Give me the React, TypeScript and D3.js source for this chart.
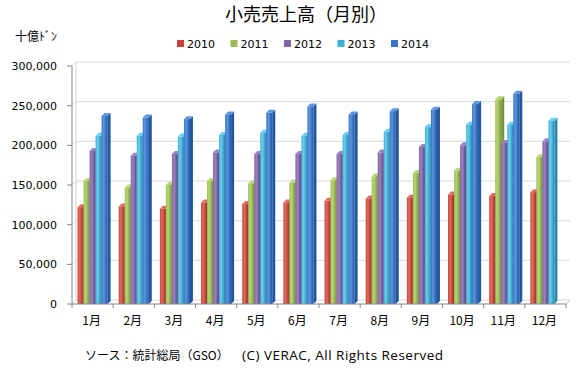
import React from "react";
import { scaleBand, scaleLinear } from "d3";

const months = ["1月", "2月", "3月", "4月", "5月", "6月", "7月", "8月", "9月", "10月", "11月", "12月"];
const years = ["2010", "2011", "2012", "2013", "2014"];

const sales2010 = [122000, 123000, 120000, 128000, 126000, 128000, 130000, 133000, 134000, 138000, 136000, 141000];
const sales2011 = [155000, 147000, 150000, 155000, 152000, 153000, 156000, 161000, 165000, 168000, 258000, 185000];
const sales2012 = [193000, 187000, 189000, 191000, 189000, 189000, 189000, 191000, 198000, 200000, 203000, 205000];
const sales2013 = [212000, 212000, 211000, 213000, 216000, 212000, 213000, 217000, 223000, 226000, 226000, 231000];
const sales2014 = [237000, 235000, 233000, 239000, 241000, 249000, 239000, 243000, 245000, 252000, 265000, null];

const series = [sales2010, sales2011, sales2012, sales2013, sales2014];
const yTicks = [0, 50000, 100000, 150000, 200000, 250000, 300000];

const colors = [
  { base: "#C9433A", light: "#E26A5F", dark: "#9A2E27" },
  { base: "#9BBB59", light: "#B8D672", dark: "#76953A" },
  { base: "#8064A2", light: "#9D82C2", dark: "#5C4480" },
  { base: "#3DB2D9", light: "#6ACDEE", dark: "#2788AE" },
  { base: "#3575C8", light: "#5C96E0", dark: "#21559F" },
];

const W = 578;
const H = 373;
const left = 72;
const right = 566;
const bottom = 304;
const top = 66;
const wall = 4; // back wall offset
const depth = 3; // bar depth

const App = () => {
  const x0 = scaleBand().domain(months).range([left, right]).paddingInner(0.27).paddingOuter(0.135);
  const x1 = scaleBand().domain(years).range([0, x0.bandwidth()]);
  const y = scaleLinear().domain([0, 300000]).range([bottom, top]);
  const step = x0.step();
  const fmt = (v: number) => v.toLocaleString("en-US");

  return (
    <svg width={W} height={H} style={{ display: "block", position: "absolute", left: 0, top: 0 }}>
      <defs>
        {colors.map((c, i) => (
          <linearGradient key={i} id={"g" + i} x1="0" x2="1" y1="0" y2="0">
            <stop offset="0" stopColor={c.base} />
            <stop offset="0.35" stopColor={c.light} />
            <stop offset="1" stopColor={c.dark} />
          </linearGradient>
        ))}
      </defs>
      <rect width={W} height={H} fill="#fff" />

      {/* title */}
      <text x={225} y={21} fontFamily="'Noto Sans CJK JP'" fontSize={18} fill="#000">
        小売売上高（月別）
      </text>
      <text x={15} y={41} fontFamily="'Noto Sans CJK JP'" fontSize={12} fill="#000">
        十億ﾄﾞﾝ
      </text>

      {/* legend */}
      {years.map((yr, i) => (
        <g key={yr} transform={`translate(${177 + i * 53.5},44)`}>
          <rect x={0} y={-4} width={7} height={7} fill={colors[i].base} />
          <text x={10} y={4} fontFamily="'DejaVu Sans'" fontSize={11} fill="#000">
            {yr}
          </text>
        </g>
      ))}

      {/* back wall + grid */}
      <line x1={left + wall} x2={left + wall} y1={y(300000) - wall} y2={bottom - wall} stroke="#D0D0D0" />
      {yTicks.map((t) => (
        <g key={t}>
          <line x1={left + wall} x2={right + wall} y1={y(t) - wall} y2={y(t) - wall} stroke="#D9D9D9" />
          <line x1={left} x2={left + wall} y1={y(t)} y2={y(t) - wall} stroke="#D9D9D9" />
        </g>
      ))}
      <line x1={right} x2={right + wall} y1={bottom} y2={bottom - wall} stroke="#BFBFBF" />

      {/* bars */}
      {months.map((m, mi) => (
        <g key={m}>
          {series.map((s, si) => {
            const v = s[mi];
            if (v == null) return null;
            const bx = (x0(m) as number) + (x1(years[si]) as number);
            const bw = x1.bandwidth();
            const by = y(v);
            const c = colors[si];
            return (
              <g key={si}>
                <polygon
                  points={`${bx + bw},${by} ${bx + bw + depth},${by - depth} ${bx + bw + depth},${bottom - depth} ${bx + bw},${bottom}`}
                  fill={c.dark}
                />
                <polygon
                  points={`${bx},${by} ${bx + depth},${by - depth} ${bx + bw + depth},${by - depth} ${bx + bw},${by}`}
                  fill={c.light}
                />
                <rect x={bx} y={by} width={bw} height={bottom - by} fill={`url(#g${si})`} />
              </g>
            );
          })}
        </g>
      ))}

      {/* axes */}
      <line x1={left} x2={left} y1={top} y2={bottom} stroke="#868686" />
      <line x1={left} x2={right} y1={bottom} y2={bottom} stroke="#868686" />
      {yTicks.map((t) => (
        <g key={t}>
          <line x1={left - 5} x2={left} y1={y(t)} y2={y(t)} stroke="#868686" />
          <text x={57} y={y(t) + 4} textAnchor="end" fontFamily="'DejaVu Sans'" fontSize={11} fill="#000">
            {fmt(t)}
          </text>
        </g>
      ))}
      {months.map((m, i) => (
        <line key={"t" + m} x1={left + i * step} x2={left + i * step} y1={bottom} y2={bottom + 4} stroke="#868686" />
      ))}
      <line x1={right} x2={right} y1={bottom} y2={bottom + 4} stroke="#868686" />
      {months.map((m) => (
        <text
          key={"l" + m}
          x={(x0(m) as number) + x0.bandwidth() / 2 - 1}
          y={325}
          textAnchor="middle"
          fontFamily="'Noto Sans CJK JP'"
          fontSize={12}
          fill="#000"
        >
          {m}
        </text>
      ))}

      {/* footer */}
      <text x={85} y={360} fontFamily="'Noto Sans CJK JP'" fontSize={12} fill="#000">
        ソース：統計総局（GSO）
      </text>
      <text x={242} y={360} fontFamily="'Open Sans'" fontSize={13.5} textLength={201} lengthAdjust="spacing" fill="#000">
        (C) VERAC, All Rights Reserved
      </text>
    </svg>
  );
};

export default App;
